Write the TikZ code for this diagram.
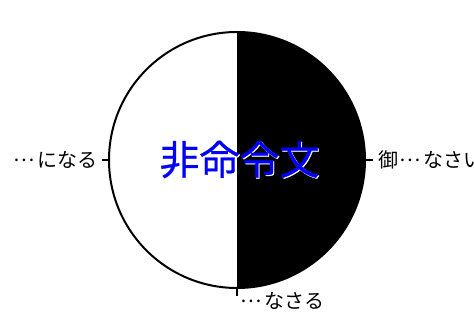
\documentclass[tikz,border=0pt]{standalone}
\usepackage{fontspec}
\setmainfont{Noto Sans CJK JP}
\newcommand{\fwdots}{\kern1.5pt\raisebox{0.32em}{…}\kern3pt}
\begin{document}
\begin{tikzpicture}[x=1pt,y=1pt,
  lab/.style={font=\fontsize{20}{20}\selectfont, inner sep=0pt},
  tickline/.style={line width=1.6pt},
  title/.style={font=\fontsize{40}{40}\selectfont\addfontfeature{FakeBold=0.6}, inner sep=0pt}]
\useasboundingbox (0,0) rectangle (474,328);
\coordinate (o) at (237,168);
\fill[black] (237,296) arc[start angle=90,end angle=-90,radius=128] -- cycle;
\node[circle, draw, line width=2pt, minimum size=256pt, inner sep=0pt] (c) at (o) {};
% labels
\node[lab, anchor=east] (l) at (98,168) {\fwdots になる};
\node[lab, anchor=west] (r) at (378,168) {御\fwdots なさい};
\node[lab, anchor=west] (b) at (239,27) {\fwdots なさる};
\coordinate (lt) at (102,168);
\coordinate (rt) at (373,168);
\coordinate (bt) at (237,32);
\draw[tickline] (c.west) -- (lt);
\draw[tickline] (c.east) -- (rt);
\draw[tickline] (c.south) -- (bt);
% title with white shadow
\node[title, white] (ts) at (240.5,167.5) {非命令文};
\node[title, blue] (t) at (239.5,168.5) {非命令文};
\end{tikzpicture}
\end{document}
